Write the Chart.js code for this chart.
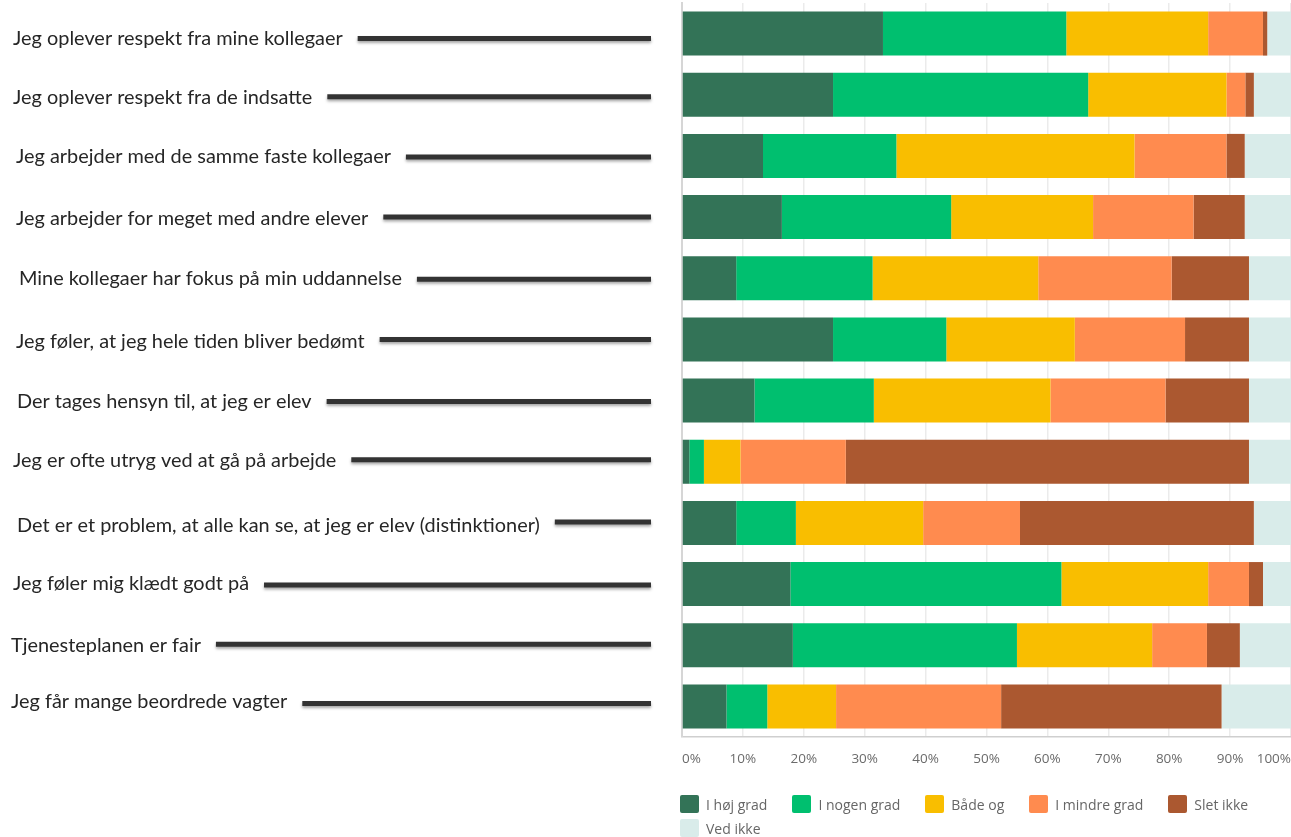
<!DOCTYPE html>
<html>
<head>
<meta charset="utf-8">
<script src="https://cdn.jsdelivr.net/npm/chart.js@4/dist/chart.umd.min.js"></script>
<style>
  html, body { margin: 0; padding: 0; background: #ffffff; }
  #wrap { position: relative; width: 1291px; height: 837px; overflow: hidden; }
  #c { position: absolute; left: 0; top: 0; }
  #legend { position: absolute; left: 680px; top: 795px; width: 611px; display: flex; flex-wrap: wrap;
            column-gap: 25px; row-gap: 6px; font-family: "Open Sans", sans-serif; font-size: 14px; color: #666; }
  .li { display: flex; align-items: center; height: 18px; }
  .sw { width: 19px; height: 18px; border-radius: 2px; margin-right: 7px; }
</style>
</head>
<body>
<div id="wrap">
  <canvas id="c" width="1291" height="837"></canvas>
  <div id="legend"></div>
</div>
<script>
const categories = [
  "Jeg oplever respekt fra mine kollegaer",
  "Jeg oplever respekt fra de indsatte",
  "Jeg arbejder med de samme faste kollegaer",
  "Jeg arbejder for meget med andre elever",
  "Mine kollegaer har fokus på min uddannelse",
  "Jeg føler, at jeg hele tiden bliver bedømt",
  "Der tages hensyn til, at jeg er elev",
  "Jeg er ofte utryg ved at gå på arbejde",
  "Det er et problem, at alle kan se, at jeg er elev (distinktioner)",
  "Jeg føler mig klædt godt på",
  "Tjenesteplanen er fair",
  "Jeg får mange beordrede vagter"
];
const seriesNames = ["I høj grad", "I nogen grad", "Både og", "I mindre grad", "Slet ikke", "Ved ikke"];
const hojGrad    = [33.0, 24.8, 13.3, 16.4,  8.9, 24.8, 11.9,  1.2,  8.9, 17.8, 18.2,  7.3];
const nogenGrad  = [30.1, 41.9, 21.9, 27.8, 22.4, 18.6, 19.6,  2.4,  9.8, 44.5, 36.8,  6.7];
const baadeOg    = [23.3, 22.7, 39.1, 23.3, 27.2, 21.1, 29.0,  6.0, 20.9, 24.1, 22.2, 11.3];
const mindreGrad = [ 9.0,  3.1, 15.1, 16.5, 21.9, 18.1, 18.9, 17.3, 15.9,  6.7,  9.0, 27.1];
const sletIkke   = [ 0.7,  1.4,  3.0,  8.4, 12.7, 10.5, 13.7, 66.2, 38.4,  2.3,  5.4, 36.2];
const vedIkke    = [ 3.9,  6.1,  7.6,  7.6,  6.9,  6.9,  6.9,  6.9,  6.1,  4.6,  8.4, 11.4];
const xTicks = [0, 10, 20, 30, 40, 50, 60, 70, 80, 90, 100];

const colors = ["#337357", "#00BF6F", "#F9BE00", "#FF8B4F", "#AB5830", "#D9ECEA"];
const seriesValues = [hojGrad, nogenGrad, baadeOg, mindreGrad, sletIkke, vedIkke];

// small hand-placement nudges of the pasted-in annotation labels (style only)
const labelIndent = [13, 13, 16, 16, 19, 16, 17, 13, 17, 13, 11, 11];
const textNudge   = [5, 3, 1, 1, 0, 2, 1, -1, 3, 0, 0, -5];
const lineNudge   = [5, 2, 1, 0, 1, 0, 1, -2, -1, 1, -1, -3];

const leftLabels = {
  id: "leftLabels",
  afterDraw(chart) {
    const ctx = chart.ctx;
    const y = chart.scales.y;
    ctx.save();
    ctx.font = '19.9px Lato, "Open Sans", sans-serif';
    ctx.textBaseline = "middle";
    ctx.textAlign = "left";
    categories.forEach((lab, i) => {
      const cy = y.getPixelForValue(i);
      const tx = labelIndent[i];
      ctx.fillStyle = "#262626";
      ctx.fillText(lab, tx, cy + textNudge[i]);
      const w = ctx.measureText(lab).width;
      ctx.save();
      ctx.strokeStyle = "#333333";
      ctx.lineWidth = 5;
      ctx.lineCap = "butt";
      ctx.shadowColor = "rgba(0,0,0,0.35)";
      ctx.shadowOffsetY = 2;
      ctx.shadowBlur = 3;
      ctx.beginPath();
      ctx.moveTo(tx + w + 15, cy + lineNudge[i]);
      ctx.lineTo(651, cy + lineNudge[i]);
      ctx.stroke();
      ctx.restore();
    });
    ctx.restore();
  }
};

const chart = new Chart(document.getElementById("c"), {
  type: "bar",
  data: {
    labels: categories,
    datasets: seriesNames.map((n, k) => ({
      label: n,
      data: seriesValues[k],
      backgroundColor: colors[k],
      borderWidth: 0,
      barPercentage: 0.9,
      categoryPercentage: 0.8
    }))
  },
  options: {
    indexAxis: "y",
    responsive: false,
    animation: false,
    layout: { padding: { left: 682, right: 0, top: 3, bottom: 56 } },
    plugins: { legend: { display: false }, tooltip: { enabled: false } },
    scales: {
      x: {
        stacked: true, min: 0, max: 100,
        afterBuildTicks(scale) { scale.ticks = xTicks.map(v => ({ value: v })); },
        ticks: {
          align: "inner", padding: 0,
          font: { family: "Open Sans", size: 13.5, lineHeight: 3.26 },
          color: "#6b6b6b",
          callback: (v) => v + "%"
        },
        grid: { color: "#ebebeb", lineWidth: 1.5, drawTicks: false },
        border: { display: true, color: "#cfcfcf", width: 1.5 }
      },
      y: {
        stacked: true,
        ticks: { display: false },
        grid: { display: false, drawTicks: false },
        border: { display: true, color: "#d6d6d6", width: 2 }
      }
    }
  },
  plugins: [leftLabels]
});

const legendEl = document.getElementById("legend");
chart.data.datasets.forEach((ds) => {
  const item = document.createElement("div");
  item.className = "li";
  const sw = document.createElement("span");
  sw.className = "sw";
  sw.style.background = ds.backgroundColor;
  const tx = document.createElement("span");
  tx.textContent = ds.label;
  item.appendChild(sw);
  item.appendChild(tx);
  legendEl.appendChild(item);
});
</script>
</body>
</html>
